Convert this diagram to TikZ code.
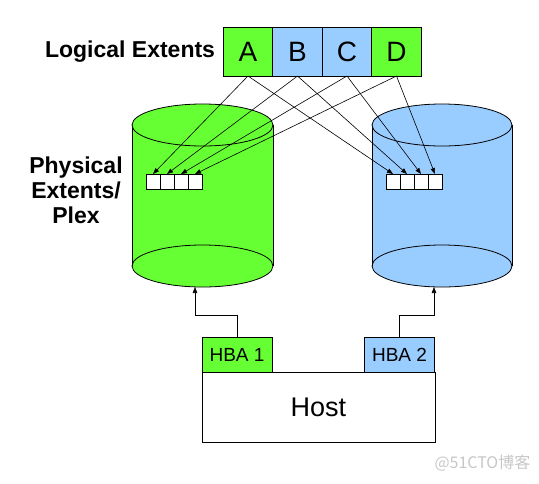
\documentclass[tikz,border=0pt]{standalone}
\usepackage{fontspec}
\setmainfont{Liberation Sans}
\newfontfamily\cjk{Noto Sans CJK SC}
\usetikzlibrary{arrows.meta, positioning}
\definecolor{diskgreen}{RGB}{102,255,51}
\definecolor{diskblue}{RGB}{153,204,255}

\begin{document}
\begin{tikzpicture}[
  x=1pt, y=-1pt,
  lext/.style={draw, line width=0.8pt, outer sep=0pt, inner sep=0pt, minimum width=49.5pt, minimum height=49pt, font=\fontsize{28}{30}\selectfont},
  pext/.style={draw, line width=0.7pt, fill=white, outer sep=0pt, inner sep=0pt, minimum width=14pt, minimum height=15pt},
  hba/.style={draw, line width=0.8pt, outer sep=0pt, inner sep=0pt, minimum width=70pt, minimum height=35pt, font=\fontsize{19}{21}\selectfont},
  title/.style={align=center, inner sep=0pt, font=\bfseries\fontsize{23}{25}\selectfont},
  arrow/.style={-{Triangle[length=6pt, width=4.5pt]}, line width=0.6pt}
]
  \useasboundingbox (0,0) rectangle (539,483);

  % disks
  \foreach \cx/\rx/\col in {202.5/70.5/diskgreen, 442/70/diskblue} {
    \fill[\col] (\cx-\rx,125) rectangle (\cx+\rx,266);
    \draw[line width=0.8pt, fill=\col] (\cx,266) ellipse[x radius=\rx pt, y radius=21pt];
    \draw[line width=0.8pt] (\cx-\rx,125) -- (\cx-\rx,266) (\cx+\rx,125) -- (\cx+\rx,266);
    \draw[line width=0.8pt, fill=\col] (\cx,125) ellipse[x radius=\rx pt, y radius=21pt];
  }
  \coordinate (lbot) at (195,287);
  \coordinate (rbot) at (434,287);

  % logical extents
  \node[lext, fill=diskgreen] (A) at (248,51.5) {A};
  \node[lext, fill=diskblue, right=0pt of A] (B) {B};
  \node[lext, fill=diskblue, right=0pt of B] (C) {C};
  \node[lext, fill=diskgreen, right=0pt of C] (D) {D};
  \node[title, left=8pt of A] (ltitle) {Logical Extents};
  \node[title] (ptitle) at (76,190) {Physical\\Extents/\\Plex};

  % physical extents
  \foreach \i in {1,...,4} {
    \node[pext] (lp\i) at (139+14*\i,181.5) {};
    \node[pext] (rp\i) at (379+14*\i,181.5) {};
  }
  \foreach \s [count=\i] in {A,B,C,D} {
    \draw[arrow] (\s.south) -- (lp\i.north);
    \draw[arrow] (\s.south) -- (rp\i.north);
  }

  % host
  \node[hba, minimum width=233pt, minimum height=70pt, font=\fontsize{27}{29}\selectfont] (host) at (318.5,407) {Host};
  \node[hba, fill=diskgreen] (hba1) at (237,354.5) {HBA 1};
  \node[hba, fill=diskblue] (hba2) at (399.5,354.5) {HBA 2};
  \draw[arrow] (hba1.north) -- ++(0,-22) -| (lbot);
  \draw[arrow] (hba2.north) -- ++(0,-22) -| (rbot);

  \node[anchor=west, text=black!22, font=\cjk\fontsize{16}{18}\selectfont] (wm) at (431,463) {@51CTO博客};
\end{tikzpicture}
\end{document}
